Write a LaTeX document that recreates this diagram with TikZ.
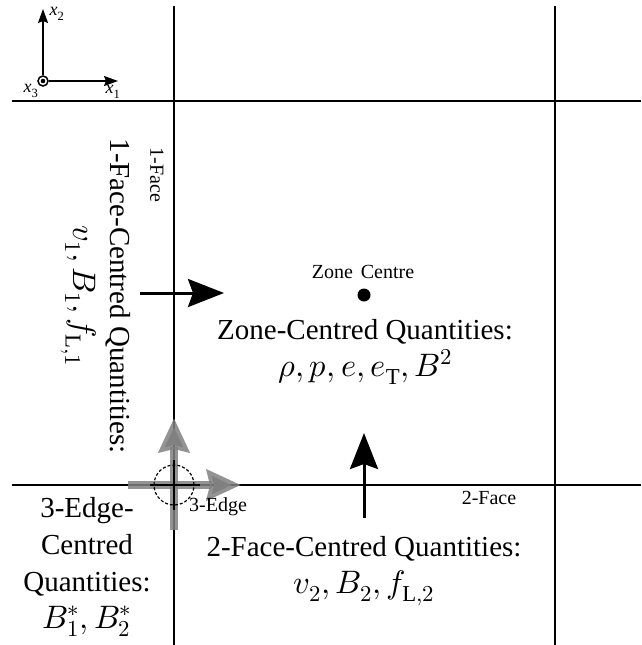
\documentclass[tikz,border=0pt]{standalone}
\usepackage{fontspec}
\usepackage{unicode-math}
\setmainfont{Liberation Serif}
\setmathfont{latinmodern-math.otf}
\newfontfamily\tnr{Liberation Serif}
\newcommand{\mq}[1]{{\fontsize{32.5}{37}\selectfont$#1$}}
\usetikzlibrary{arrows.meta}
\tikzset{
  gridline/.style={line width=2pt, black},
  bigarrow/.style={line width=3pt, -{Stealth[length=36pt,width=28pt,inset=5pt]}},
  grayarrow/.style={line width=8pt, draw=black!50, draw opacity=0.85, -{Stealth[length=34pt,width=30pt,inset=3pt]}},
  axarrow/.style={line width=1.5pt, -{Stealth[length=14pt,width=10pt,inset=2pt]}},
  bigtext/.style={font=\tnr\fontsize{29}{37}\selectfont, align=center, inner sep=0pt},
  smalltext/.style={font=\tnr\fontsize{20}{22}\selectfont, inner sep=0pt},
  axtext/.style={font=\tnr\fontsize{18}{20}\selectfont, inner sep=0pt}
}
\begin{document}
\begin{tikzpicture}[x=1pt,y=-1pt]
\useasboundingbox (0,0) rectangle (641,645);
% grid lines
\draw[gridline] (174,6) -- (174,645);
\draw[gridline] (555,6) -- (555,645);
\draw[gridline] (12,101) -- (641,101);
\draw[gridline] (12,485) -- (641,485);

% axes
\node[circle, draw, line width=1.5pt, minimum size=10pt, inner sep=0pt] (o) at (43,81) {};
\fill (o.center) circle (2.3pt);
\coordinate (x1end) at (118,81);
\coordinate (x2end) at (43,9);
\draw[axarrow] (o.east) -- (x1end);
\draw[axarrow] (o.north) -- (x2end);
\node[axtext] (lx1) at (113,92) {\textit{x}\textsubscript{1}};
\node[axtext] (lx2) at (57,14) {\textit{x}\textsubscript{2}};
\node[axtext] (lx3) at (31,91) {\textit{x}\textsubscript{3}};

% gray edge arrows
\coordinate (gh0) at (128,485);
\coordinate (gh1) at (241,485);
\coordinate (gv0) at (174,530);
\coordinate (gv1) at (174,418);
\draw[grayarrow] (gh0) -- (gh1);
\draw[grayarrow] (gv0) -- (gv1);
\draw[gridline] (150,485) -- (200,485);
\draw[gridline] (174,460) -- (174,510);
\node[circle, draw, dashed, line width=1.2pt, minimum size=40pt, inner sep=0pt, dash pattern=on 3pt off 2pt] (edge) at (174,485) {};
\node[smalltext] (edgelab) at (218,507) {3-Edge};

% zone centre
\node[circle, fill, minimum size=13pt, inner sep=0pt] (zc) at (364,295) {};
\node[smalltext] (zclab) at (363,272) {Zone\hspace{0.4em}Centre};
\node[bigtext] (zq) at (365,352) {Zone-Centred Quantities:\\ \mq{\rho, p, e, e_{\mathrm{T}}, B^2}};

% 1-face
\node[smalltext, rotate=-90] (f1lab) at (157,175) {1-Face};
\node[bigtext, rotate=-90] (f1q) at (96,296) {1-Face-Centred Quantities:\\ \mq{v_1, B_1, f_{\mathrm{L},1}}};
\coordinate (a1s) at (140,293);
\coordinate (a1e) at (224,293);
\draw[bigarrow] (a1s) -- (a1e);

% 2-face
\node[smalltext] (f2lab) at (489,498) {2-Face};
\node[bigtext] (f2q) at (364,571) {2-Face-Centred Quantities:\\ \mq{v_2, B_2, f_{\mathrm{L},2}}};
\coordinate (a2s) at (364,518);
\coordinate (a2e) at (364,433);
\draw[bigarrow] (a2s) -- (a2e);

% 3-edge
\node[bigtext] (eq) at (87,567) {3-Edge-\\Centred\\Quantities:\\ \mq{B_1^*, B_2^*}};
\end{tikzpicture}
\end{document}
